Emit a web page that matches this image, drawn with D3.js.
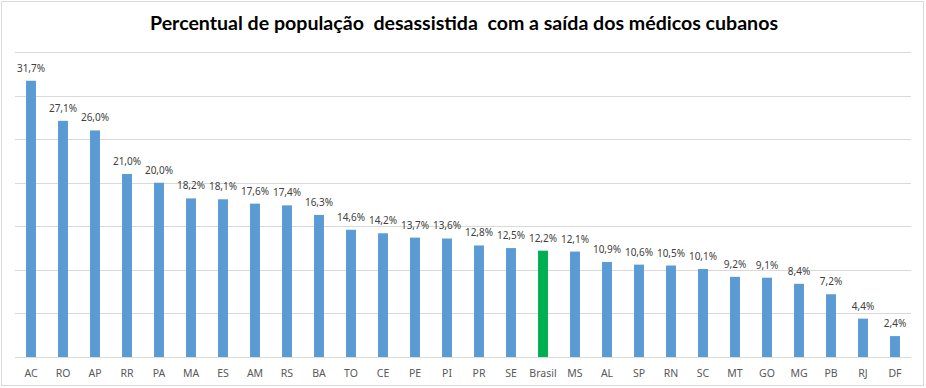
<!DOCTYPE html>
<html><head><meta charset="utf-8">
<script src="https://cdn.jsdelivr.net/npm/d3@7"></script>
<style>body{margin:0;background:#fff}</style>
</head><body>
<svg id="c" width="926" height="388"></svg>
<script>
const categories = ["AC","RO","AP","RR","PA","MA","ES","AM","RS","BA","TO","CE","PE","PI","PR","SE","Brasil","MS","AL","SP","RN","SC","MT","GO","MG","PB","RJ","DF"];
const values = [31.7,27.1,26.0,21.0,20.0,18.2,18.1,17.6,17.4,16.3,14.6,14.2,13.7,13.6,12.8,12.5,12.2,12.1,10.9,10.6,10.5,10.1,9.2,9.1,8.4,7.2,4.4,2.4];
const gridTicks = [0,5,10,15,20,25,30,35];
const title = "Percentual de população  desassistida  com a saída dos médicos cubanos";

const svg = d3.select("#c");
svg.append("rect").attr("x",1.5).attr("y",1.5).attr("width",922).attr("height",384)
  .attr("fill","#fff").attr("stroke","#d9d9d9");

const x = d3.scaleBand().domain(categories).range([15,911]).paddingInner(0.69).paddingOuter(0.345);
const y = d3.scaleLinear().domain([0,35]).range([357,52]);

svg.append("g").selectAll("line").data(gridTicks).join("line")
  .attr("x1",15).attr("x2",911)
  .attr("y1",d=>Math.round(y(d))+0.5).attr("y2",d=>Math.round(y(d))+0.5)
  .attr("stroke","#d9d9d9").attr("stroke-width",1);

svg.append("g").selectAll("rect").data(categories).join("rect")
  .attr("x",d=>x(d)).attr("width",x.bandwidth())
  .attr("y",(d,i)=>y(values[i])).attr("height",(d,i)=>y(0)-y(values[i]))
  .attr("fill",d=>d==="Brasil"?"#00b050":"#5b9bd5");

const fmt = v => v.toFixed(1).replace(".",",")+"%";
svg.append("g").selectAll("text").data(categories).join("text")
  .attr("x",d=>x(d)+x.bandwidth()/2).attr("y",(d,i)=>y(values[i])-9)
  .attr("text-anchor","middle").attr("font-family","Noto Sans").attr("font-size",10)
  .attr("fill","#404040").text((d,i)=>fmt(values[i]));

svg.append("g").selectAll("text").data(categories).join("text")
  .attr("x",d=>x(d)+x.bandwidth()/2).attr("y",377)
  .attr("text-anchor","middle").attr("font-family","Noto Sans").attr("font-size",10.5)
  .attr("fill","#595959").text(d=>d);

svg.append("text").attr("x",464).attr("y",30).attr("text-anchor","middle")
  .attr("font-family","Lato").attr("font-weight","bold").attr("font-size",19)
  .attr("fill","#000").attr("textLength",628).attr("lengthAdjust","spacingAndGlyphs")
  .style("white-space","pre").text(title);
</script>
</body></html>
